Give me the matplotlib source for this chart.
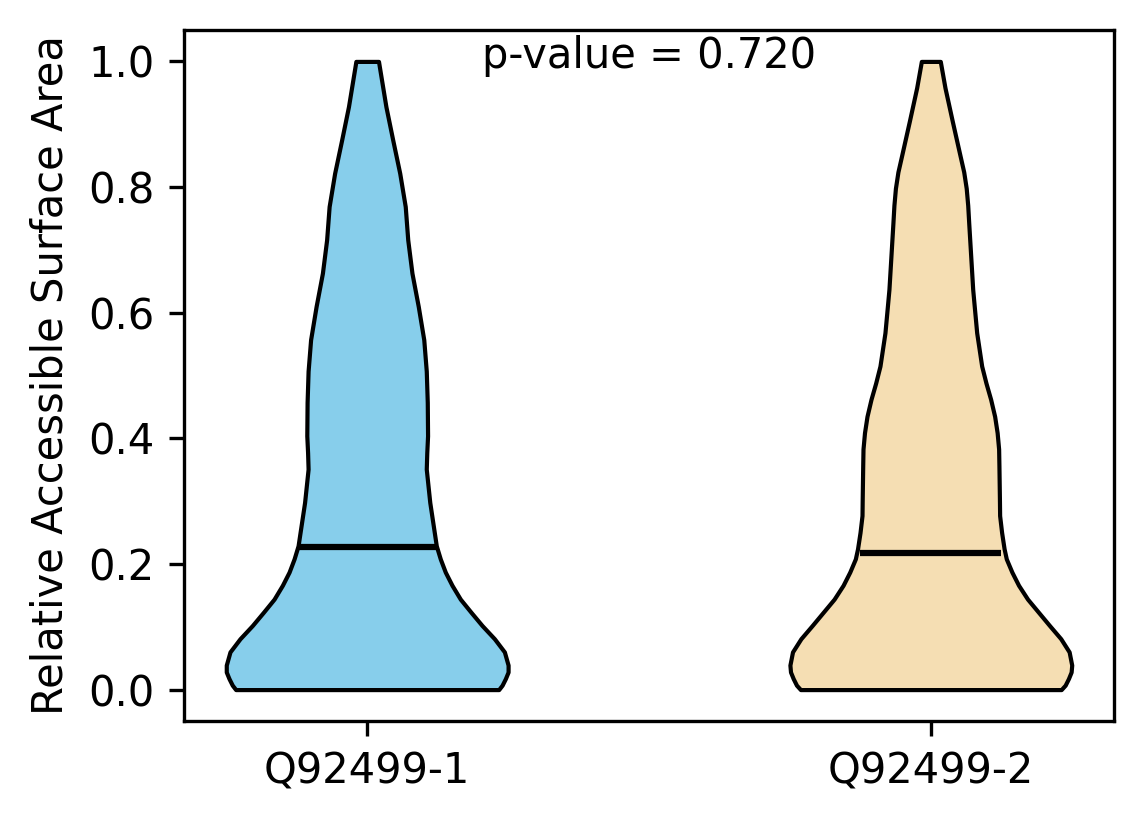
import matplotlib
matplotlib.use("Agg")
import matplotlib.pyplot as plt
import numpy as np

categories = ["Q92499-1", "Q92499-2"]
colors = ["#87CEEB", "#F5DEB3"]
medians = [0.227, 0.2175]
p_value_text = "p-value = 0.720"

# Violin outline: RSA levels and relative density
rsa_1 = [0.0, 0.007, 0.0175, 0.028, 0.039, 0.060, 0.081, 0.102, 0.123, 0.144,
         0.166, 0.187, 0.208, 0.229, 0.245, 0.298, 0.351, 0.377, 0.404, 0.457,
         0.507, 0.557, 0.610, 0.663, 0.716, 0.769, 0.822, 0.875, 0.928, 1.0]
dens_1 = [131.3, 134.7, 138.0, 140.7, 140.7, 137.0, 127.0, 114.7, 103.7, 93.0,
          84.7, 78.0, 73.0, 69.0, 67.5, 62.5, 59.0, 59.5, 60.3, 60.0,
          59.0, 56.5, 51.0, 44.7, 40.5, 38.0, 32.5, 25.5, 18.7, 11.3]

rsa_2 = [0.0, 0.007, 0.0175, 0.028, 0.039, 0.060, 0.081, 0.102, 0.123, 0.144,
         0.166, 0.187, 0.208, 0.224, 0.250, 0.277, 0.303, 0.356, 0.383, 0.409,
         0.435, 0.462, 0.488, 0.515, 0.568, 0.611, 0.637, 0.690, 0.743, 0.771,
         0.798, 0.824, 0.852, 0.905, 0.958, 1.0]
dens_2 = [130.7, 134.7, 138.0, 140.7, 141.3, 138.7, 130.3, 119.0, 108.0, 97.0,
          88.0, 81.3, 75.7, 73.5, 71.0, 69.0, 68.8, 68.3, 68.0, 66.5,
          64.0, 60.0, 55.3, 51.0, 46.0, 43.5, 42.0, 40.0, 38.0, 37.0,
          35.5, 33.0, 29.0, 21.5, 14.2, 9.5]

rsa = [rsa_1, rsa_2]
dens = [dens_1, dens_2]

vpstats = []
for c, v, m in zip(rsa, dens, medians):
    c = np.array(c)
    vpstats.append(dict(coords=c, vals=np.array(v), mean=m, median=m,
                        min=c.min(), max=c.max()))

fig = plt.figure(figsize=(1144 / 300, 824 / 300), dpi=300)
ax = fig.add_axes([184 / 1144, 1 - 721 / 824, (1114 - 184) / 1144, (721 - 30) / 824])

positions = [1, 2]
res = ax.violin(vpstats, positions=positions, widths=0.5,
                showmeans=False, showextrema=False, showmedians=True)
for body, col in zip(res["bodies"], colors):
    body.set_facecolor(col)
    body.set_edgecolor("black")
    body.set_linewidth(1.0)
    body.set_alpha(1)
res["cmedians"].set_color("black")
res["cmedians"].set_linewidth(1.5)

ax.set_xticks(positions)
ax.set_xticklabels(categories)
ax.set_ylabel("Relative Accessible Surface Area")
ax.set_yticks([0.0, 0.2, 0.4, 0.6, 0.8, 1.0])
ax.text(1.5, 0.99, p_value_text, ha="center", va="baseline", fontsize=10)

fig.savefig("out.png", dpi=300)
